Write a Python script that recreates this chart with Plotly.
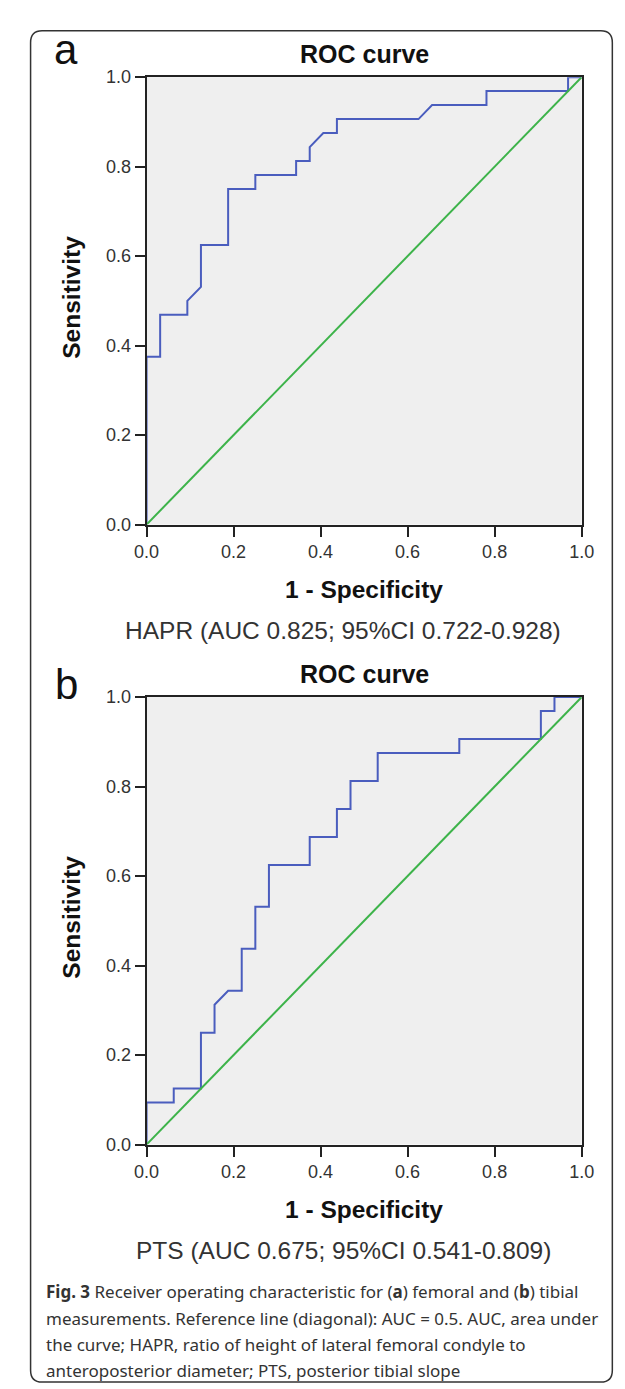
import plotly.graph_objects as go

W, H = 625, 1389

# ---------------- data ----------------
fpr_a = [0, 0, 0.03125, 0.03125, 0.09375, 0.09375, 0.125, 0.125, 0.1875, 0.1875,
         0.25, 0.25, 0.34375, 0.34375, 0.375, 0.375, 0.40625, 0.4375, 0.4375,
         0.625, 0.65625, 0.78125, 0.78125, 0.96875, 0.96875, 1.0]
tpr_a = [0, 0.375, 0.375, 0.46875, 0.46875, 0.5, 0.53125, 0.625, 0.625, 0.75,
         0.75, 0.78125, 0.78125, 0.8125, 0.8125, 0.84375, 0.875, 0.875, 0.90625,
         0.90625, 0.9375, 0.9375, 0.96875, 0.96875, 1.0, 1.0]

fpr_b = [0, 0, 0.0625, 0.0625, 0.125, 0.125, 0.15625, 0.15625, 0.1875, 0.21875,
         0.21875, 0.25, 0.25, 0.28125, 0.28125, 0.375, 0.375, 0.4375, 0.4375,
         0.46875, 0.46875, 0.53125, 0.53125, 0.71875, 0.71875, 0.90625, 0.90625,
         0.9375, 0.9375, 1.0]
tpr_b = [0, 0.09375, 0.09375, 0.125, 0.125, 0.25, 0.25, 0.3125, 0.34375, 0.34375,
         0.4375, 0.4375, 0.53125, 0.53125, 0.625, 0.625, 0.6875, 0.6875, 0.75,
         0.75, 0.8125, 0.8125, 0.875, 0.875, 0.90625, 0.90625, 0.96875, 0.96875,
         1.0, 1.0]

ref_x = [0, 1]
ref_y = [0, 1]

tick_vals = [0.0, 0.2, 0.4, 0.6, 0.8, 1.0]
tick_text = ["0.0", "0.2", "0.4", "0.6", "0.8", "1.0"]

panel_letters = ["a", "b"]
panel_titles = ["ROC curve", "ROC curve"]
auc_labels = ["HAPR (AUC 0.825; 95%CI 0.722-0.928)",
              "PTS (AUC 0.675; 95%CI 0.541-0.809)"]
x_title = "1 - Specificity"
y_title = "Sensitivity"
caption_lines = [
    "<b>Fig. 3</b> Receiver operating characteristic for (<b>a</b>) femoral and (<b>b</b>) tibial",
    "measurements. Reference line (diagonal): AUC = 0.5. AUC, area under",
    "the curve; HAPR, ratio of height of lateral femoral condyle to",
    "anteroposterior diameter; PTS, posterior tibial slope",
]

# ---------------- layout helpers (pixel -> paper) ----------------
def px(x):
    return x / W

def py(y):
    return 1 - y / H

PLOT_L, PLOT_R = 131, 585
panels = [  # top, bottom pixel of each plot frame
    (60, 514),
    (689, 1143),
]

BLUE = "#4A5DBE"
GREEN = "#3DB34A"
AXIS = "#222222"
TXT = "#333333"
FONT = "Liberation Sans, Arial, sans-serif"

fig = go.Figure()

series = [(fpr_a, tpr_a), (fpr_b, tpr_b)]
for i, (fx, fy) in enumerate(series):
    xa = "x" if i == 0 else "x2"
    ya = "y" if i == 0 else "y2"
    fig.add_trace(go.Scatter(x=fx, y=fy, mode="lines", xaxis=xa, yaxis=ya,
                             line=dict(color=BLUE, width=2), showlegend=False,
                             hoverinfo="skip"))
    fig.add_trace(go.Scatter(x=ref_x, y=ref_y, mode="lines", xaxis=xa, yaxis=ya,
                             line=dict(color=GREEN, width=2), showlegend=False,
                             hoverinfo="skip"))

axis_common = dict(range=[0, 1], showgrid=False, zeroline=False, showline=True,
                   linecolor=AXIS, linewidth=2, mirror=True, ticks="outside",
                   ticklen=10, tickwidth=2, tickcolor=AXIS,
                   tickvals=tick_vals, ticktext=tick_text,
                   tickfont=dict(family=FONT, size=18, color=TXT), fixedrange=True)

layout_axes = {}
for i, (top, bot) in enumerate(panels):
    sx = "" if i == 0 else "2"
    layout_axes["xaxis" + sx] = dict(axis_common, domain=[px(PLOT_L), px(PLOT_R)],
                                     anchor="y" + sx)
    layout_axes["yaxis" + sx] = dict(axis_common, domain=[py(bot), py(top)],
                                     anchor="x" + sx)

annotations = []
shapes = []

for i, (top, bot) in enumerate(panels):
    cx = (PLOT_L + PLOT_R) / 2
    # panel letter
    letter_y = 32 if i == 0 else 676
    annotations.append(dict(x=px(47), y=py(letter_y), xref="paper", yref="paper",
                            text=panel_letters[i], showarrow=False,
                            xanchor="center", yanchor="middle",
                            font=dict(family=FONT, size=42, color="#111111")))
    # title
    annotations.append(dict(x=px(cx), y=py(top - 23), xref="paper", yref="paper",
                            text="<b>" + panel_titles[i] + "</b>", showarrow=False,
                            xanchor="center", yanchor="middle",
                            font=dict(family=FONT, size=25, color="#111111")))
    # x title
    annotations.append(dict(x=px(cx), y=py(bot + 66), xref="paper", yref="paper",
                            text="<b>" + x_title + "</b>", showarrow=False,
                            xanchor="center", yanchor="middle",
                            font=dict(family=FONT, size=24.5, color="#111111")))
    # y title
    annotations.append(dict(x=px(53), y=py((top + bot) / 2 - 4), xref="paper",
                            yref="paper", text="<b>" + y_title + "</b>",
                            showarrow=False, textangle=-90,
                            xanchor="center", yanchor="middle",
                            font=dict(family=FONT, size=24.5, color="#111111")))
    # AUC label
    annotations.append(dict(x=px(336), y=py(bot + 107), xref="paper", yref="paper",
                            text=auc_labels[i], showarrow=False,
                            xanchor="center", yanchor="middle",
                            font=dict(family=FONT, size=24.5, color=TXT)))

cap_y = [1292, 1319, 1346, 1372]
for line, yy in zip(caption_lines, cap_y):
    annotations.append(dict(x=px(24), y=py(yy), xref="paper", yref="paper",
                            text=line, showarrow=False,
                            xanchor="left", yanchor="middle",
                            font=dict(family="Noto Sans, Open Sans, sans-serif",
                                      size=17, color=TXT)))

# rounded outer border
L, T, R, B, r = 10, 13, 617, 1384, 12
path = (f"M {px(L + r)} {py(T)} L {px(R - r)} {py(T)} Q {px(R)} {py(T)} {px(R)} {py(T + r)} "
        f"L {px(R)} {py(B - r)} Q {px(R)} {py(B)} {px(R - r)} {py(B)} "
        f"L {px(L + r)} {py(B)} Q {px(L)} {py(B)} {px(L)} {py(B - r)} "
        f"L {px(L)} {py(T + r)} Q {px(L)} {py(T)} {px(L + r)} {py(T)} Z")
shapes.append(dict(type="path", path=path, xref="paper", yref="paper",
                   line=dict(color="#333333", width=1.5), fillcolor="rgba(0,0,0,0)"))

fig.update_layout(width=W, height=H, margin=dict(l=0, r=0, t=0, b=0),
                  paper_bgcolor="white", plot_bgcolor="#EFEFEF",
                  annotations=annotations, shapes=shapes, showlegend=False,
                  **layout_axes)

fig.write_html("out.html", config={"displayModeBar": False})
